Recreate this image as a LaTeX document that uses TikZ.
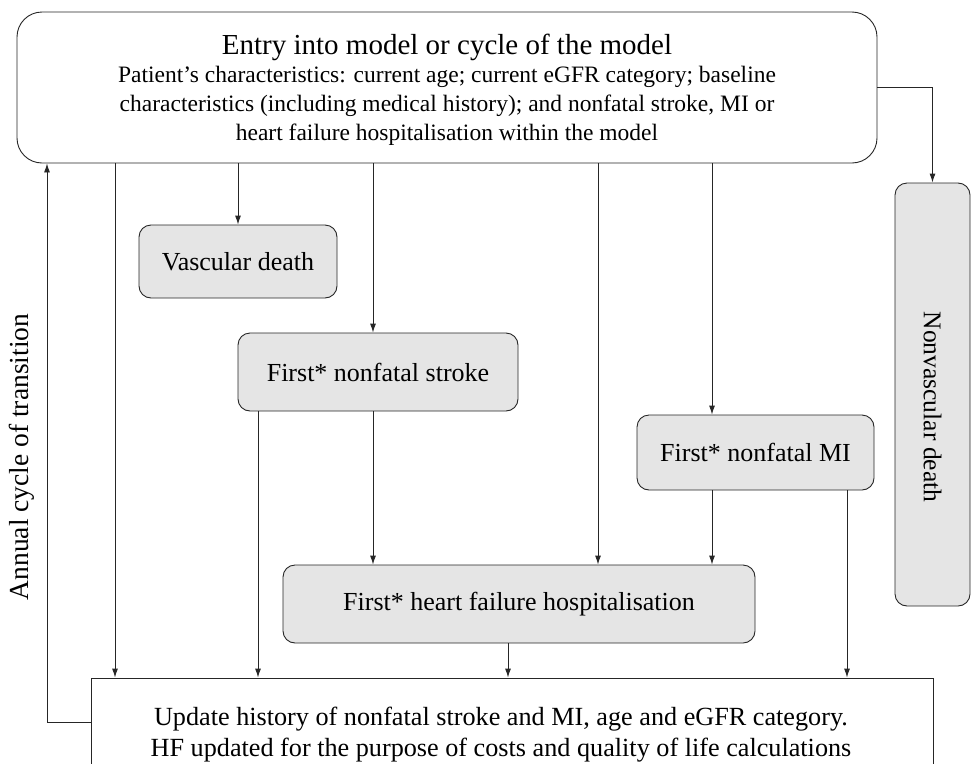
\documentclass[tikz,border=0pt]{standalone}
\usepackage{fontspec}
\setmainfont{Liberation Serif}
\usetikzlibrary{arrows.meta}
\tikzset{
  stage/.style={draw=black!85, fill=black!10, rounded corners=12pt, line width=0.9pt, inner sep=0pt, font=\fontsize{26}{30}\selectfont},
  flow/.style={draw=black!85, line width=0.9pt, -{Latex[length=9pt,width=6pt]}}
}
\begin{document}
\begin{tikzpicture}[x=1pt,y=-1pt]
\clip (0,0) rectangle (974,763);
% boxes
\node[draw=black!85, line width=0.9pt, rounded corners=25pt, minimum width=860pt, minimum height=151pt] (top) at (447,87.5) {};
\node[font=\fontsize{29}{33}\selectfont] (toptitle) at (447,47) {Entry into model or cycle of the model};
\node[align=center, font=\fontsize{23.5}{29}\selectfont] (toptxt) at (447,106) {Patient’s characteristics: current age; current eGFR category; baseline\\
characteristics (including medical history); and nonfatal stroke, MI or\\
heart failure hospitalisation within the model};
\node[stage, minimum width=198pt, minimum height=73pt] (vd) at (238,261.5) {Vascular death};
\node[stage, minimum width=280pt, minimum height=78pt] (fs) at (378,372) {First* nonfatal stroke};
\node[stage, minimum width=237pt, minimum height=75pt] (mi) at (755.5,452.5) {First* nonfatal MI};
\node[stage, minimum width=472pt, minimum height=78pt] (hf) at (519,604) {First* heart failure hospitalisation};
\node[stage, minimum width=75pt, minimum height=423pt] (nv) at (932.5,394.5) {};
\node[rotate=-90, font=\fontsize{25.5}{30}\selectfont] (nvtxt) at (932.5,407) {Nonvascular death};
\node[draw=black!85, line width=0.9pt, minimum width=842pt, minimum height=116pt] (upd) at (512,736) {};
\node[align=center, font=\fontsize{26.2}{31}\selectfont] (updtxt) at (501,735) {Update history of nonfatal stroke and MI, age and eGFR category.\\
HF updated for the purpose of costs and quality of life calculations};
\node[rotate=90, font=\fontsize{27.5}{30}\selectfont] (cyc) at (22,457) {Annual cycle of transition};
% columns of the arrows
\coordinate (x1) at (115,0);
\coordinate (x2) at (258,0);
\coordinate (x3) at (373,0);
\coordinate (x4) at (508,0);
\coordinate (x5) at (598,0);
\coordinate (x6) at (712,0);
\coordinate (x7) at (847,0);
\coordinate (fb) at (47,722);
% arrows
\draw[flow] (top.south -| vd) -- (vd.north);
\draw[flow] (top.south -| x3) -- (fs.north -| x3);
\draw[flow] (top.south -| x6) -- (mi.north -| x6);
\draw[flow] (top.south -| x5) -- (hf.north -| x5);
\draw[flow] (top.south -| x1) -- (upd.north -| x1);
\draw[flow] (top.east) -| (nv.north);
\draw[flow] (fs.south -| x3) -- (hf.north -| x3);
\draw[flow] (mi.south -| x6) -- (hf.north -| x6);
\draw[flow] (fs.south -| x2) -- (upd.north -| x2);
\draw[flow] (hf.south -| x4) -- (upd.north -| x4);
\draw[flow] (mi.south -| x7) -- (upd.north -| x7);
\draw[flow] (upd.west |- fb) -- (fb) -- (fb |- top.south);
\end{tikzpicture}
\end{document}
